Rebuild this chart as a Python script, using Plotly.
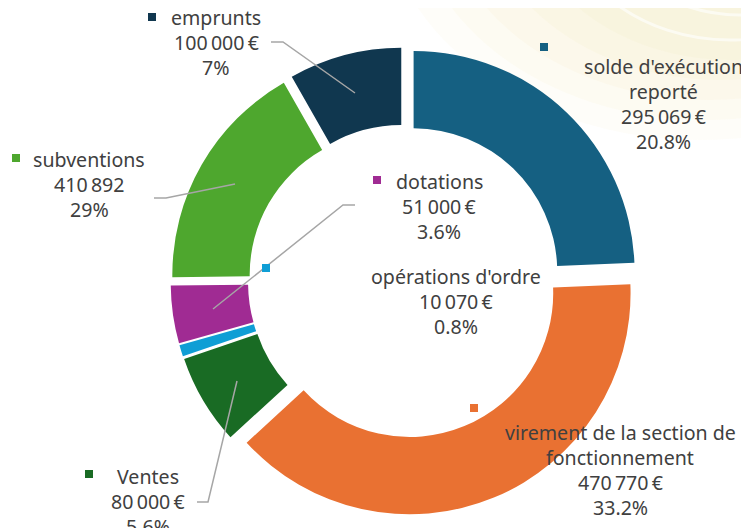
import plotly.graph_objects as go

W, H = 749, 528
OFF = 8  # page body margin offset

# ---- data (clockwise from 12 o'clock) ----
categories = ["solde d'exécution reporté", "virement de la section de fonctionnement",
              "Ventes", "opérations d'ordre", "dotations", "subventions", "emprunts"]
# slice sizes as drawn in the picture
values = [295069, 470770, 80000, 10070, 51000, 205000, 100000]
name_lines = [["solde d'exécution", "reporté"], ["virement de la section de", "fonctionnement"],
              ["Ventes"], ["opérations d'ordre"], ["dotations"], ["subventions"], ["emprunts"]]
amount_labels = ["295\u202f069\u202f€", "470\u202f770\u202f€", "80\u202f000\u202f€", "10\u202f070\u202f€",
                 "51\u202f000\u202f€", "410\u202f892", "100\u202f000\u202f€"]
pct_labels = ["20.8%", "33.2%", "5.6%", "0.8%", "3.6%", "29%", "7%"]
colors = ["#156082", "#E97132", "#196B24", "#0F9ED5", "#A02B93", "#4EA72E", "#10374F"]

# ---- label layout (pixels in the page) ----
label_cx = [663, 620, 148, 456, 439, 89, 216]
label_y0 = [66, 432, 476, 276, 181, 159, 17]
key_xy = [(544, 47), (474, 408), (89, 474), (266, 268), (377, 180), (16, 158), (152, 17)]
leaders = {
    "emprunts": [(271, 42), (283, 42), (355, 93)],
    "subventions": [(154, 198), (166, 198), (235, 184)],
    "dotations": [(355, 205), (343, 205), (213, 309)],
    "Ventes": [(197, 502), (208, 502), (237, 381)],
}
LINE_H = 25.3
TEXT_COLOR = "#404040"
FONT = "Noto Sans"
FONT_SIZE = 19.6


def px(x):
    return (x - OFF) / W


def py(y):
    return 1 - (y - OFF) / H


cx, cy, box = 404.6, 281.3, 468
fig = go.Figure(go.Pie(
    labels=categories, values=values, sort=False, direction="clockwise", rotation=0,
    hole=0.65, pull=[0.0588] * len(values),
    marker=dict(colors=colors, line=dict(width=0)),
    textinfo="none", hoverinfo="label+value", showlegend=False,
    domain=dict(x=[px(cx - box / 2), px(cx + box / 2)], y=[py(cy + box / 2), py(cy - box / 2)]),
))

shapes = []
# faint cream background decoration (top right), soft layered
for (x0, x1, y0, y1, a) in [(380, 1020, 140, -360, 0.10), (410, 1000, 120, -340, 0.12),
                            (440, 980, 100, -320, 0.14), (480, 960, 80, -300, 0.16),
                            (520, 940, 60, -280, 0.16)]:
    shapes.append(dict(type="circle", xref="paper", yref="paper", layer="below",
                       x0=px(x0), x1=px(x1), y0=py(y1), y1=py(y0),
                       fillcolor=f"rgba(245,236,195,{a})", line=dict(width=0)))
for (x0, x1, y0, y1) in [(560, 900, 40, -240), (600, 880, 15, -220)]:
    shapes.append(dict(type="circle", xref="paper", yref="paper", layer="below",
                       x0=px(x0), x1=px(x1), y0=py(y1), y1=py(y0),
                       fillcolor="rgba(0,0,0,0)", line=dict(width=3, color="rgba(255,255,255,0.6)")))
# thin dark green vertical line at right edge
shapes.append(dict(type="line", xref="paper", yref="paper",
                   x0=px(748.3), x1=px(748.3), y0=py(152), y1=py(458),
                   line=dict(color="#1D5A1D", width=1.5)))

for name, pts in leaders.items():
    path = "M " + " L ".join(f"{px(x)},{py(y)}" for x, y in pts)
    shapes.append(dict(type="path", xref="paper", yref="paper", path=path,
                       line=dict(color="#A6A6A6", width=1.5)))

for (kx, ky), c in zip(key_xy, colors):
    shapes.append(dict(type="rect", xref="paper", yref="paper",
                       x0=px(kx - 4), x1=px(kx + 4), y0=py(ky + 4), y1=py(ky - 4),
                       fillcolor=c, line=dict(width=0)))

annotations = []
for i in range(len(categories)):
    lines = name_lines[i] + [amount_labels[i], pct_labels[i]]
    for j, t in enumerate(lines):
        annotations.append(dict(x=px(label_cx[i]), y=py(label_y0[i] + j * LINE_H),
                                xref="paper", yref="paper", text=t, showarrow=False,
                                xanchor="center", yanchor="middle",
                                font=dict(family=FONT, size=FONT_SIZE, color=TEXT_COLOR)))

fig.update_layout(width=W, height=H, margin=dict(l=0, r=0, t=0, b=0),
                  paper_bgcolor="white", plot_bgcolor="white",
                  shapes=shapes, annotations=annotations)
fig.write_html("out.html")
